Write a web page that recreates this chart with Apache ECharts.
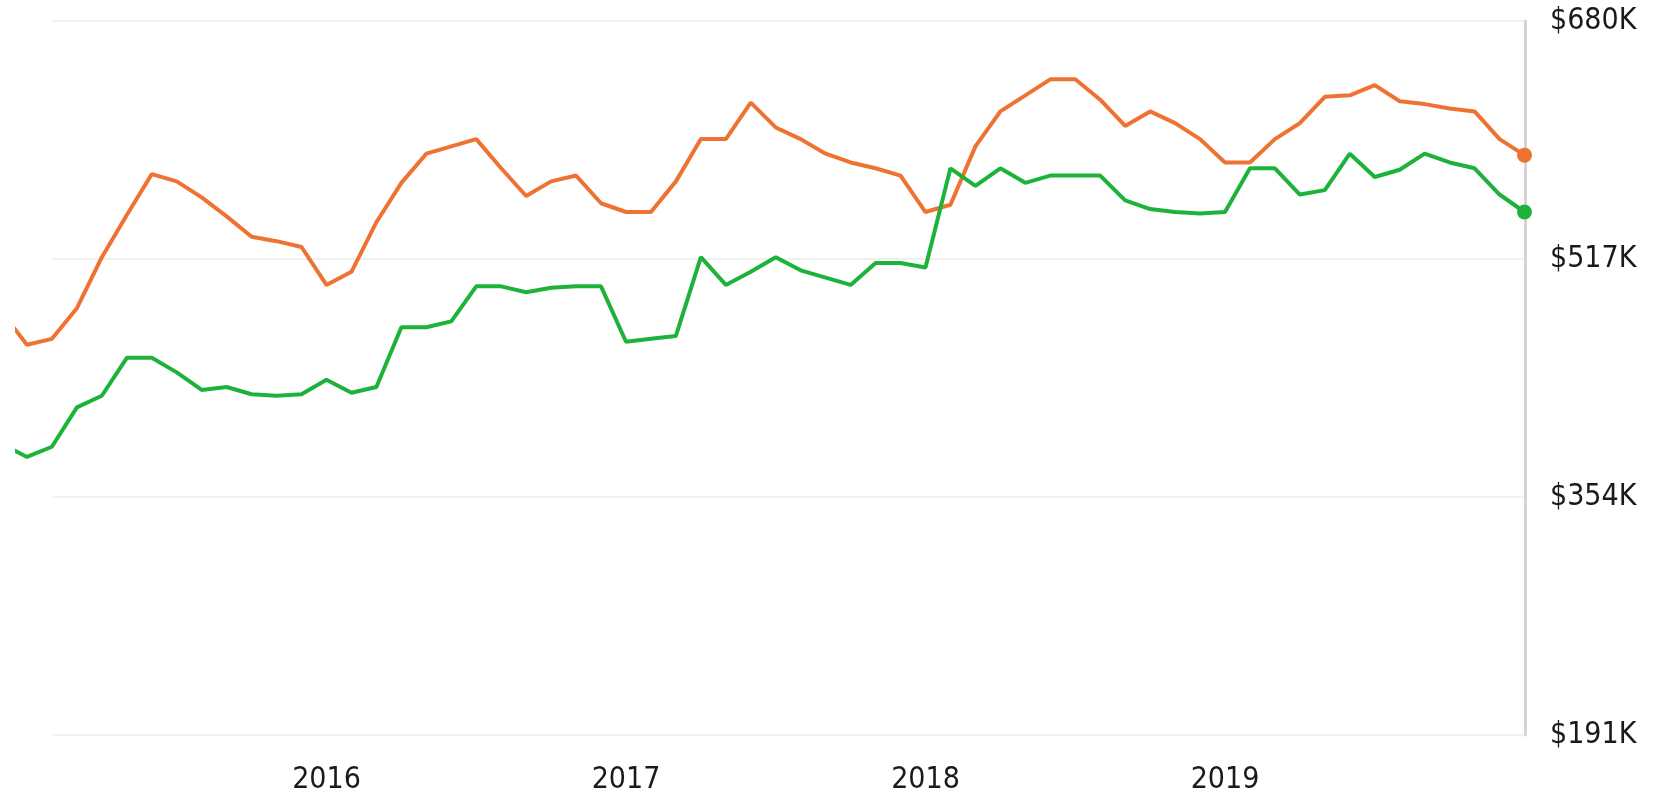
<!DOCTYPE html>
<html>
<head>
<meta charset="utf-8">
<script src="https://cdn.jsdelivr.net/npm/echarts@6/dist/echarts.min.js"></script>
<style>
html, body { margin: 0; padding: 0; background: #fff; }
#chart { width: 1662px; height: 795px; }
</style>
</head>
<body>
<div id="chart"></div>
<script>
// monthly values in $K, first entry is Dec 2014, last is Jan 2020
var orangeValues = [480, 458, 462, 483, 518, 547, 575, 570, 559, 546, 532, 529, 525,
    499, 508, 542, 569, 589, 594, 599, 579, 560, 570, 574, 555,
    549, 549, 570, 599, 599, 624, 607, 599, 589, 583, 579, 574,
    549, 554, 594, 618, 629, 640, 640, 626, 608, 618, 610, 599,
    583, 583, 599, 610, 628, 629, 636, 625, 623, 620, 618, 599, 588];
var greenValues = [390, 381, 388, 415, 423, 449, 449, 439, 427, 429, 424, 423, 424,
    434, 425, 429, 470, 470, 474, 498, 498, 494, 497, 498, 498,
    460, 462, 464, 518, 499, 508, 518, 509, 504, 499, 514, 514,
    511, 579, 567, 579, 569, 574, 574, 574, 557, 551, 549, 548,
    549, 579, 579, 561, 564, 589, 573, 578, 589, 583, 579, 561, 549];
var yearLabels = ['2016', '2017', '2018', '2019'];
var yTicks = [191, 354, 517, 680];

var firstYear = 2015; // month index 0 = Jan 2015

//把数组转成 [月份序号, 值]
function toPoints(values){
	var pts = [];
	for(var i = 0;i<values.length;i++){
		pts.push([i - 1, values[i]]);
	}
	return pts;
}
function lastPoint(values){
	return [[values.length - 2, values[values.length - 1]]];
}

var yearTicks = [];
for(var i = 0;i<yearLabels.length;i++){
	yearTicks.push((parseInt(yearLabels[i]) - firstYear) * 12);
}

var orange = '#ee7333';
var green = '#1db33b';
var textStyle = { color: '#1a1a1a', fontFamily: 'DejaVu Sans Condensed', fontSize: 30 };

var myChart = echarts.init(document.getElementById('chart'));
option = {
	animation: false,
	grid: [
		{ left: 53, top: 21, width: 1472, height: 714 },
		{ left: 17, top: 21, width: 1508, height: 714 }
	],
	xAxis: [
		{ gridIndex: 0, type: 'value', min: -0.4, max: 60, show: false },
		{
			gridIndex: 1, type: 'value', min: -0.4, max: 60.02,
			axisLine: { show: false },
			axisTick: { show: false },
			splitLine: { show: false },
			axisLabel: {
				customValues: yearTicks,
				margin: 31,
				color: textStyle.color,
				fontFamily: textStyle.fontFamily,
				fontSize: textStyle.fontSize,
				formatter: function (v) { return String(firstYear + Math.round(v / 12)); }
			}
		}
	],
	yAxis: [
		{
			gridIndex: 0, type: 'value', position: 'right',
			min: yTicks[0], max: yTicks[yTicks.length - 1], interval: yTicks[1] - yTicks[0],
			axisLine: { show: true, onZero: false, lineStyle: { color: '#d4d4d4', width: 3 } },
			axisTick: { show: false },
			splitLine: { show: true, lineStyle: { color: '#f0f0f0', width: 2 } },
			axisLabel: {
				margin: 25,
				color: textStyle.color,
				fontFamily: textStyle.fontFamily,
				fontSize: textStyle.fontSize,
				formatter: function (v) { return '$' + v + 'K'; }
			}
		},
		{
			gridIndex: 1, type: 'value',
			min: yTicks[0], max: yTicks[yTicks.length - 1],
			show: false
		}
	],
	series: [
		{
			name: 'orange', type: 'line', xAxisIndex: 1, yAxisIndex: 1,
			data: toPoints(orangeValues), showSymbol: false,
			lineStyle: { color: orange, width: 4 }, itemStyle: { color: orange }
		},
		{
			name: 'green', type: 'line', xAxisIndex: 1, yAxisIndex: 1,
			data: toPoints(greenValues), showSymbol: false,
			lineStyle: { color: green, width: 4 }, itemStyle: { color: green }
		},
		{
			type: 'scatter', xAxisIndex: 1, yAxisIndex: 1, clip: false,
			data: lastPoint(orangeValues), symbolSize: 15, itemStyle: { color: orange, opacity: 1 }
		},
		{
			type: 'scatter', xAxisIndex: 1, yAxisIndex: 1, clip: false,
			data: lastPoint(greenValues), symbolSize: 15, itemStyle: { color: green, opacity: 1 }
		}
	]
};
myChart.setOption(option);
</script>
</body>
</html>
